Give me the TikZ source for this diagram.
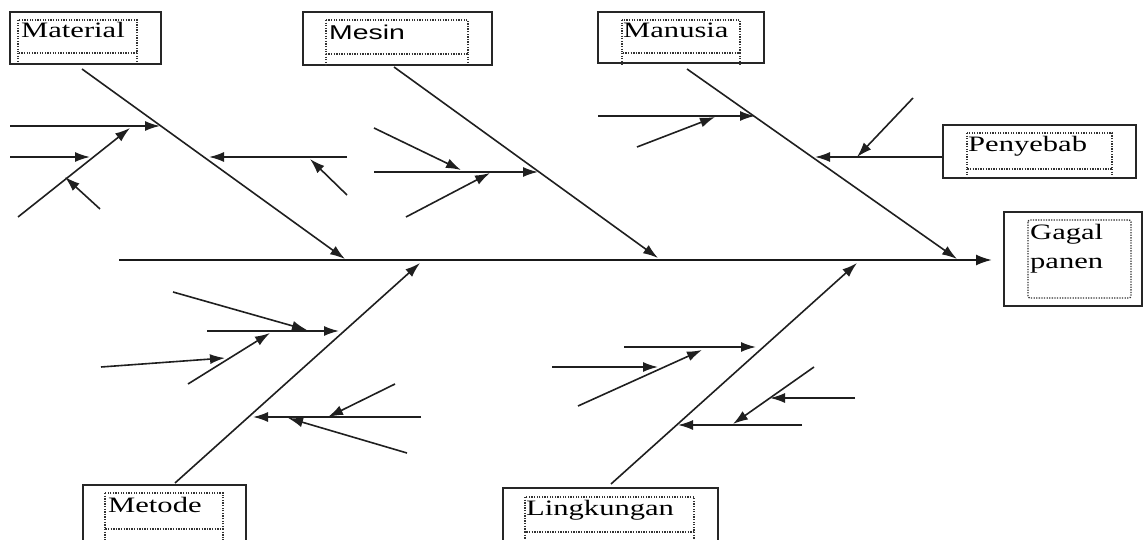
\documentclass[tikz,border=0pt]{standalone}
\usepackage{fontspec}
\setmainfont{Liberation Serif}
\newfontfamily\arialfont{Liberation Sans}
\usetikzlibrary{arrows.meta}
% labels in this chart are set wide
\newcommand\widetxt[1]{\scalebox{1.39}[1]{#1}}
\begin{document}
\begin{tikzpicture}[x=1pt,y=-1pt,
  bone/.style={line width=1.6pt,draw=black!88,-{Latex[length=15pt,width=10pt]}},
  spineline/.style={line width=2.1pt,draw=black!90,-{Latex[length=16pt,width=11pt]}},
  outerbox/.style={draw=black!85,line width=1.8pt,inner sep=0,fill=none},
  innerbox/.style={draw=black!80,line width=1.3pt,dash pattern=on 1.3pt off 1.3pt},
  lbl/.style={anchor=base west,inner sep=0,text=black,font=\fontsize{22}{26}\selectfont}]
\useasboundingbox (0,0) rectangle (1144,540);
\clip (0,0) rectangle (1144,540);

% ---- label boxes ----
\node[outerbox,minimum width=151pt,minimum height=52pt] (material) at (85.5,38) {};
\node[outerbox,minimum width=189pt,minimum height=53pt] (mesin) at (397.5,38.5) {};
\node[outerbox,minimum width=166pt,minimum height=51pt] (manusia) at (681,37.5) {};
\node[outerbox,minimum width=193pt,minimum height=53pt] (penyebab) at (1039.5,151.5) {};
\node[outerbox,minimum width=138pt,minimum height=94pt] (gagal) at (1073,259) {};
\node[outerbox,minimum width=163pt,minimum height=70pt] (metode) at (164.5,520) {};
\node[outerbox,minimum width=215pt,minimum height=70pt] (lingkungan) at (610.5,523) {};

% dotted text frames inside the boxes
\draw[innerbox] (18,20) rectangle (137,53) (18,53) -- (18,62) (137,53) -- (137,62);
\draw[innerbox] (326,20) rectangle (468,54) (326,54) -- (326,66) (468,54) -- (468,62);
\draw[innerbox] (622,20) rectangle (740,53) (622,53) -- (622,65) (740,53) -- (740,65);
\draw[innerbox] (967,133) rectangle (1112,169) (967,169) -- (967,178) (1112,169) -- (1112,178);
\draw[innerbox,rounded corners=2pt] (1028,220) rectangle (1131,298);
\draw[innerbox] (105,493) rectangle (223,529) (105,529) -- (105,541) (223,529) -- (223,541);
\draw[innerbox] (525,497) rectangle (694,532) (525,532) -- (525,541) (694,532) -- (694,541);

% texts
\node[lbl] (tmaterial) at (21,38) {\widetxt{Material}};
\node[lbl,font=\arialfont\fontsize{20}{24}\selectfont] (tmesin) at (329,40) {\scalebox{1.42}[1]{Mesin}};
\node[lbl] (tmanusia) at (623,38) {\widetxt{Manusia}};
\node[lbl] (tpenyebab) at (968,152) {\widetxt{Penyebab}};
\node[lbl] (tgagal) at (1030,240) {\widetxt{Gagal}};
\node[lbl] (tpanen) at (1030,269) {\widetxt{panen}};
\node[lbl] (tmetode) at (108,512) {\widetxt{Metode}};
\node[lbl] (tlingkungan) at (526,515) {\widetxt{Lingkungan}};

% ---- spine and main bones ----
\coordinate (tail) at (119,260);
\coordinate (head) at (992,260);
\draw[spineline] (tail) -- (head);

\coordinate (bMat) at (82,69);   \coordinate (jMat) at (345,259);
\coordinate (bMes) at (394,67);  \coordinate (jMes) at (658,258);
\coordinate (bMan) at (687,69);  \coordinate (jMan) at (957,259);
\coordinate (bMet) at (175,483); \coordinate (jMet) at (420,263);
\coordinate (bLin) at (611,484); \coordinate (jLin) at (857,263);
\foreach \s/\t in {bMat/jMat,bMes/jMes,bMan/jMan,bMet/jMet,bLin/jLin}
  \draw[bone] (\s) -- (\t);

% ---- Material causes ----
\coordinate (ma1) at (10,126);  \coordinate (ma1t) at (160,126);
\coordinate (ma2) at (10,157);  \coordinate (ma2t) at (90,157);
\coordinate (ma3) at (18,217);  \coordinate (ma3t) at (130,128);
\coordinate (ma4) at (100,209); \coordinate (ma4t) at (65,177);
\coordinate (ma5) at (347,157); \coordinate (ma5t) at (209,157);
\coordinate (ma6) at (347,195); \coordinate (ma6t) at (310,159);
% ---- Mesin causes ----
\coordinate (me1) at (374,172); \coordinate (me1t) at (538,172);
\coordinate (me2) at (374,128); \coordinate (me2t) at (461,170);
\coordinate (me3) at (406,217); \coordinate (me3t) at (490,173);
% ---- Manusia causes ----
\coordinate (mn1) at (598,116); \coordinate (mn1t) at (755,116);
\coordinate (mn2) at (637,147); \coordinate (mn2t) at (715,117);
\coordinate (mn3) at ([yshift=-5.5pt]penyebab.west); \coordinate (mn3t) at (815,157);
\coordinate (mn4) at (913,98);  \coordinate (mn4t) at (857,157);
% ---- Metode causes ----
\coordinate (mt1) at (207,331); \coordinate (mt1t) at (339,331);
\coordinate (mt2) at (173,292); \coordinate (mt2t) at (307,330);
\coordinate (mt3) at (188,384); \coordinate (mt3t) at (270,333);
\coordinate (mt4) at (101,367); \coordinate (mt4t) at (225,358);
\coordinate (mt5) at (421,417); \coordinate (mt5t) at (253,417);
\coordinate (mt6) at (395,384); \coordinate (mt6t) at (328,417);
\coordinate (mt7) at (407,453); \coordinate (mt7t) at (288,418);
% ---- Lingkungan causes ----
\coordinate (li1) at (624,347); \coordinate (li1t) at (756,347);
\coordinate (li2) at (552,367); \coordinate (li2t) at (658,367);
\coordinate (li3) at (578,406); \coordinate (li3t) at (702,350);
\coordinate (li4) at (802,425); \coordinate (li4t) at (678,425);
\coordinate (li5) at (814,367); \coordinate (li5t) at (733,424);
\coordinate (li6) at (855,398); \coordinate (li6t) at (770,398);

\foreach \c in {ma1,ma2,ma3,ma4,ma5,ma6,me1,me2,me3,mn1,mn2,mn3,mn4,
                mt1,mt2,mt3,mt4,mt5,mt6,mt7,li1,li2,li3,li4,li5,li6}
  \draw[bone] (\c) -- (\c t);
\end{tikzpicture}
\end{document}
